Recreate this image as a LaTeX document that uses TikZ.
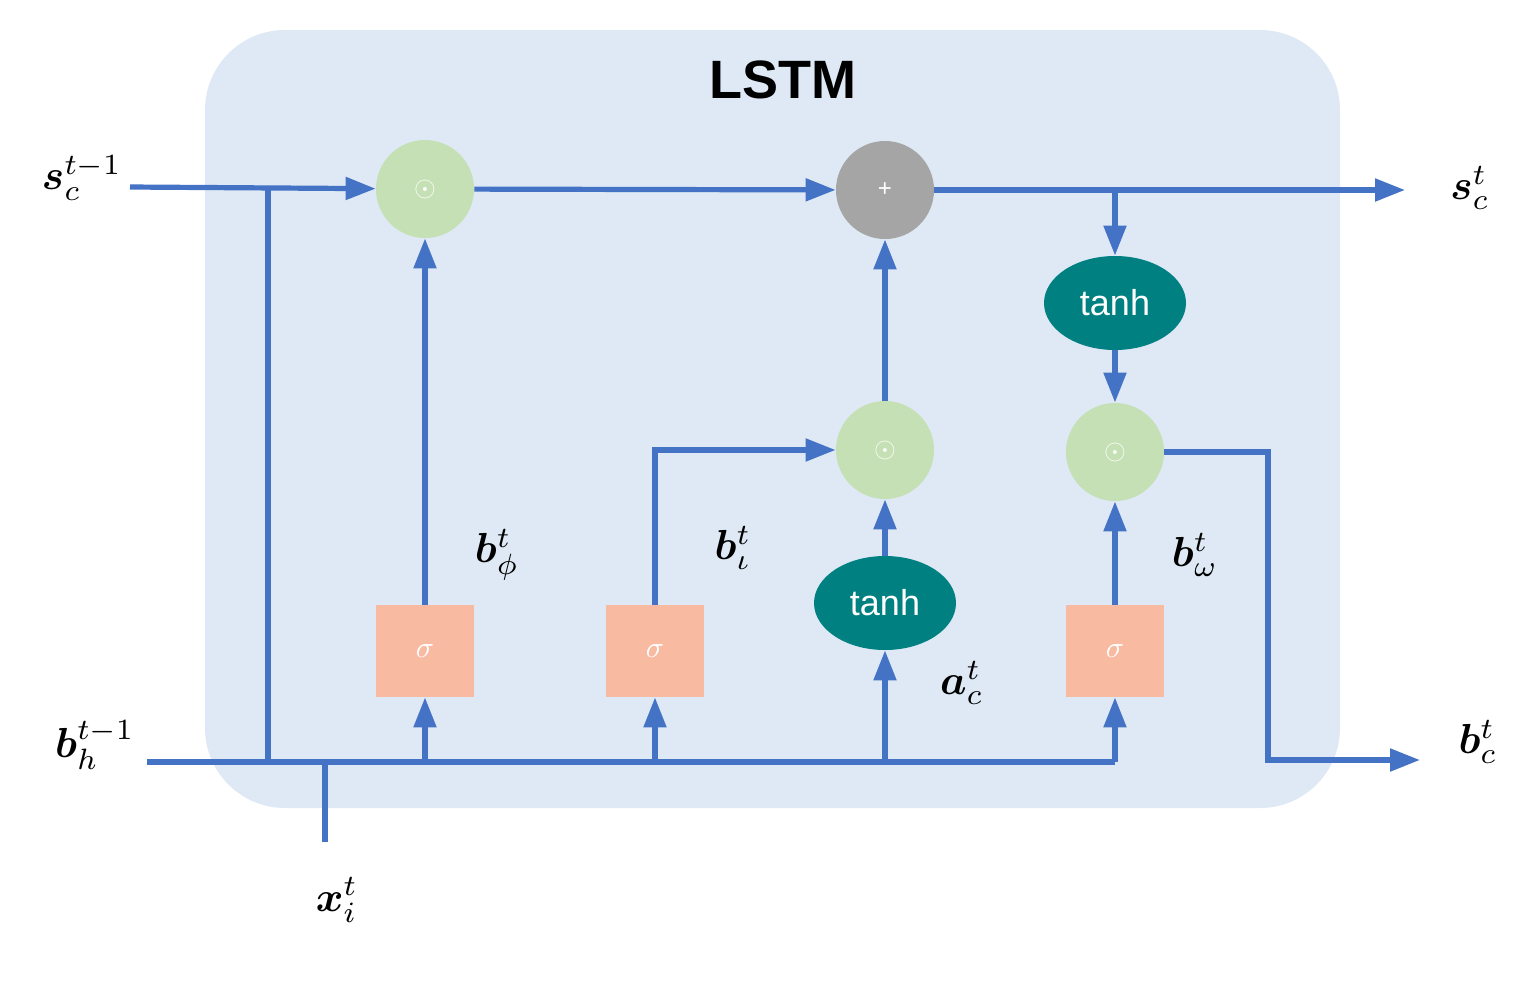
\documentclass[tikz,border=0pt]{standalone}
\usepackage{amsmath,bm,graphicx}
\usepackage{fontspec}
\setmainfont{Liberation Sans}
\usetikzlibrary{arrows.meta,shapes.geometric}
\definecolor{bg}{HTML}{DEE9F5}
\definecolor{ln}{HTML}{4472C4}
\definecolor{gr}{HTML}{C5E0B4}
\definecolor{gy}{HTML}{A5A5A5}
\definecolor{tl}{HTML}{008080}
\definecolor{sg}{HTML}{F8BBA2}
\newcommand{\biglab}[1]{\scalebox{2.1}{$#1$}}
\begin{document}
\begin{tikzpicture}[x=0.5pt,y=-0.5pt,
 wire/.style={draw=ln,line width=2.6pt},
 arr/.style={wire,-{Triangle[length=15pt,width=11pt]}},
 mul/.style={circle,fill=gr,minimum size=49pt,inner sep=0,text=white},
 add/.style={mul,fill=gy},
 th/.style={ellipse,fill=tl,minimum width=71pt,minimum height=47pt,inner sep=0,text=white,font=\fontsize{18}{18}\selectfont},
 sig/.style={rectangle,fill=sg,minimum width=49pt,minimum height=46pt,inner sep=0,text=white},
 lab/.style={inner sep=0}]
\useasboundingbox (0,0) rectangle (1539,982);
\fill[bg,rounded corners=40pt] (205,30) rectangle (1340,808);
\node[font=\bfseries\fontsize{27}{27}\selectfont] (title) at (783,80) {LSTM};
\node[mul] (f) at (425,189) {\scalebox{1.4}{$\odot$}};
\node[add] (p) at (885,190) {\scalebox{1.2}{+}};
\node[mul] (mi) at (885,450) {\scalebox{1.4}{$\odot$}};
\node[mul] (mo) at (1115,452) {\scalebox{1.4}{$\odot$}};
\node[th] (t1) at (1115,303) {tanh};
\node[th] (t2) at (885,603) {tanh};
\node[sig] (s1) at (425,651) {\scalebox{1.5}{$\sigma$}};
\node[sig] (s2) at (655,651) {\scalebox{1.5}{$\sigma$}};
\node[sig] (s3) at (1115,651) {\scalebox{1.5}{$\sigma$}};
\coordinate (sin) at (130,187);
\coordinate (bin) at (147,762);
\coordinate (bend) at (1115,762);
\coordinate (xin) at (325,842);
\coordinate (sout) at (1405,190);
\coordinate (bout) at (1420,760);
\node[lab] (Ls) at (82,178) {\biglab{\bm{s}_c^{t-1}}};
\node[lab] (Lb) at (95,745) {\biglab{\bm{b}_h^{t-1}}};
\node[lab] (Lx) at (337,900) {\biglab{\bm{x}_i^{t}}};
\node[lab] (Lso) at (1470,188) {\biglab{\bm{s}_c^{t}}};
\node[lab] (Lbo) at (1478,742) {\biglab{\bm{b}_c^{t}}};
\node[lab] (Lbf) at (497,555) {\biglab{\bm{b}_\phi^{t}}};
\node[lab] (Lbi) at (733,548) {\biglab{\bm{b}_\iota^{t}}};
\node[lab] (Lac) at (962,683) {\biglab{\bm{a}_c^{t}}};
\node[lab] (Lbw) at (1195,555) {\biglab{\bm{b}_\omega^{t}}};
% wires
\draw[arr] (sin) -- (f);
\draw[wire] (268,187) -- (268,762);
\draw[wire] (bin) -- (bend);
\draw[wire] (325,762) -- (xin);
\draw[arr] (425,762) -- (s1);
\draw[arr] (655,762) -- (s2);
\draw[arr] (885,762) -- (t2);
\draw[arr] (bend) -- (s3);
\draw[arr] (s1) -- (f);
\draw[arr] (s2.north) |- (mi);
\draw[arr] (t2) -- (mi);
\draw[arr] (mi) -- (p);
\draw[arr] (f) -- (p);
\draw[arr] (p) -- (sout);
\draw[arr] (1115,190) -- (t1);
\draw[arr] (t1) -- (mo);
\draw[arr] (s3) -- (mo);
\draw[arr] (mo.east) -- (1268,452) -- (1268,760) -- (bout);
\end{tikzpicture}
\end{document}
